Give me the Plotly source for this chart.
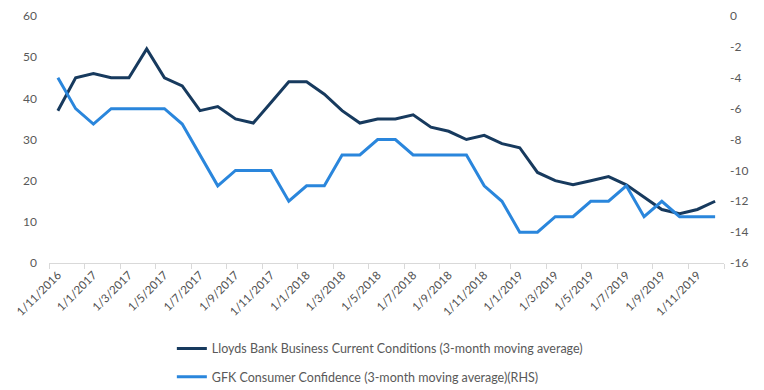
import plotly.graph_objects as go

categories = [
    "1/11/2016", "1/12/2016",
    "1/1/2017", "1/2/2017", "1/3/2017", "1/4/2017", "1/5/2017", "1/6/2017",
    "1/7/2017", "1/8/2017", "1/9/2017", "1/10/2017", "1/11/2017", "1/12/2017",
    "1/1/2018", "1/2/2018", "1/3/2018", "1/4/2018", "1/5/2018", "1/6/2018",
    "1/7/2018", "1/8/2018", "1/9/2018", "1/10/2018", "1/11/2018", "1/12/2018",
    "1/1/2019", "1/2/2019", "1/3/2019", "1/4/2019", "1/5/2019", "1/6/2019",
    "1/7/2019", "1/8/2019", "1/9/2019", "1/10/2019", "1/11/2019", "1/12/2019",
]

lloyds = [37, 45, 46, 45, 45, 52, 45, 43, 37, 38, 35, 34, 39, 44, 44, 41, 37, 34,
          35, 35, 36, 33, 32, 30, 31, 29, 28, 22, 20, 19, 20, 21, 19, 16, 13, 12, 13, 15]

gfk = [-4, -6, -7, -6, -6, -6, -6, -7, -9, -11, -10, -10, -10, -12, -11, -11, -9, -9,
       -8, -8, -9, -9, -9, -9, -11, -12, -14, -14, -13, -13, -12, -12, -11, -13, -12, -13, -13, -13]

left_ticks = [0, 10, 20, 30, 40, 50, 60]
right_ticks = [0, -2, -4, -6, -8, -10, -12, -14, -16]
right_tick_labels = ["0", "-2", "-4", "-6", "-8", "-10", "-12", "-14", "-16"]

name_lloyds = "Lloyds Bank Business Current Conditions (3-month moving average)"
name_gfk = "GFK Consumer Confidence (3-month moving average)(RHS)"

x_idx = list(range(len(categories)))
label_idx = x_idx[::2]
label_text = categories[::2]
boundaries = [i - 0.5 for i in x_idx[::2]] + [len(categories) - 0.5]

FONT = "Lato"
GREY = "#595959"

fig = go.Figure()
fig.add_trace(go.Scatter(x=x_idx, y=lloyds, mode="lines", name=name_lloyds,
                         line=dict(color="#173A5E", width=3), legendgroup="a"))
fig.add_trace(go.Scatter(x=x_idx, y=gfk, mode="lines", name=name_gfk, yaxis="y2",
                         line=dict(color="#2A86DC", width=3), legendgroup="b"))

fig.update_layout(
    width=756, height=382,
    margin=dict(l=41, r=40, t=8, b=127, autoexpand=False),
    paper_bgcolor="white", plot_bgcolor="white",
    font=dict(family=FONT, size=12, color=GREY),
    showlegend=True,
    legend=dict(x=0.182, xanchor="left", y=-0.287, yanchor="top",
                tracegroupgap=9, font=dict(size=12.5, color=GREY)),
    xaxis=dict(
        range=[-0.5, len(categories) - 0.5], automargin=False,
        tickmode="array", tickvals=label_idx, ticktext=label_text,
        tickangle=-45, ticks="", showgrid=False, zeroline=False,
        showline=True, linecolor="#D9D9D9", linewidth=1,
        tickfont=dict(size=11.5, color="#505050"),
        minor=dict(tickmode="array", tickvals=boundaries, ticks="outside",
                   ticklen=5, tickcolor="#D9D9D9", showgrid=False),
    ),
    yaxis=dict(range=[0, 60], tickmode="array", tickvals=left_ticks,
               showgrid=False, zeroline=False, automargin=False,
               showline=False, ticks="", ticklabelstandoff=11,
               tickfont=dict(size=12, color=GREY)),
    yaxis2=dict(range=[-16, 0], tickmode="array", tickvals=right_ticks,
                ticktext=right_tick_labels, overlaying="y", side="right", automargin=False,
                showgrid=False, zeroline=False, showline=False, ticks="",
                ticklabelstandoff=5, tickfont=dict(size=12, color=GREY)),
)

fig.write_html("out.html")
